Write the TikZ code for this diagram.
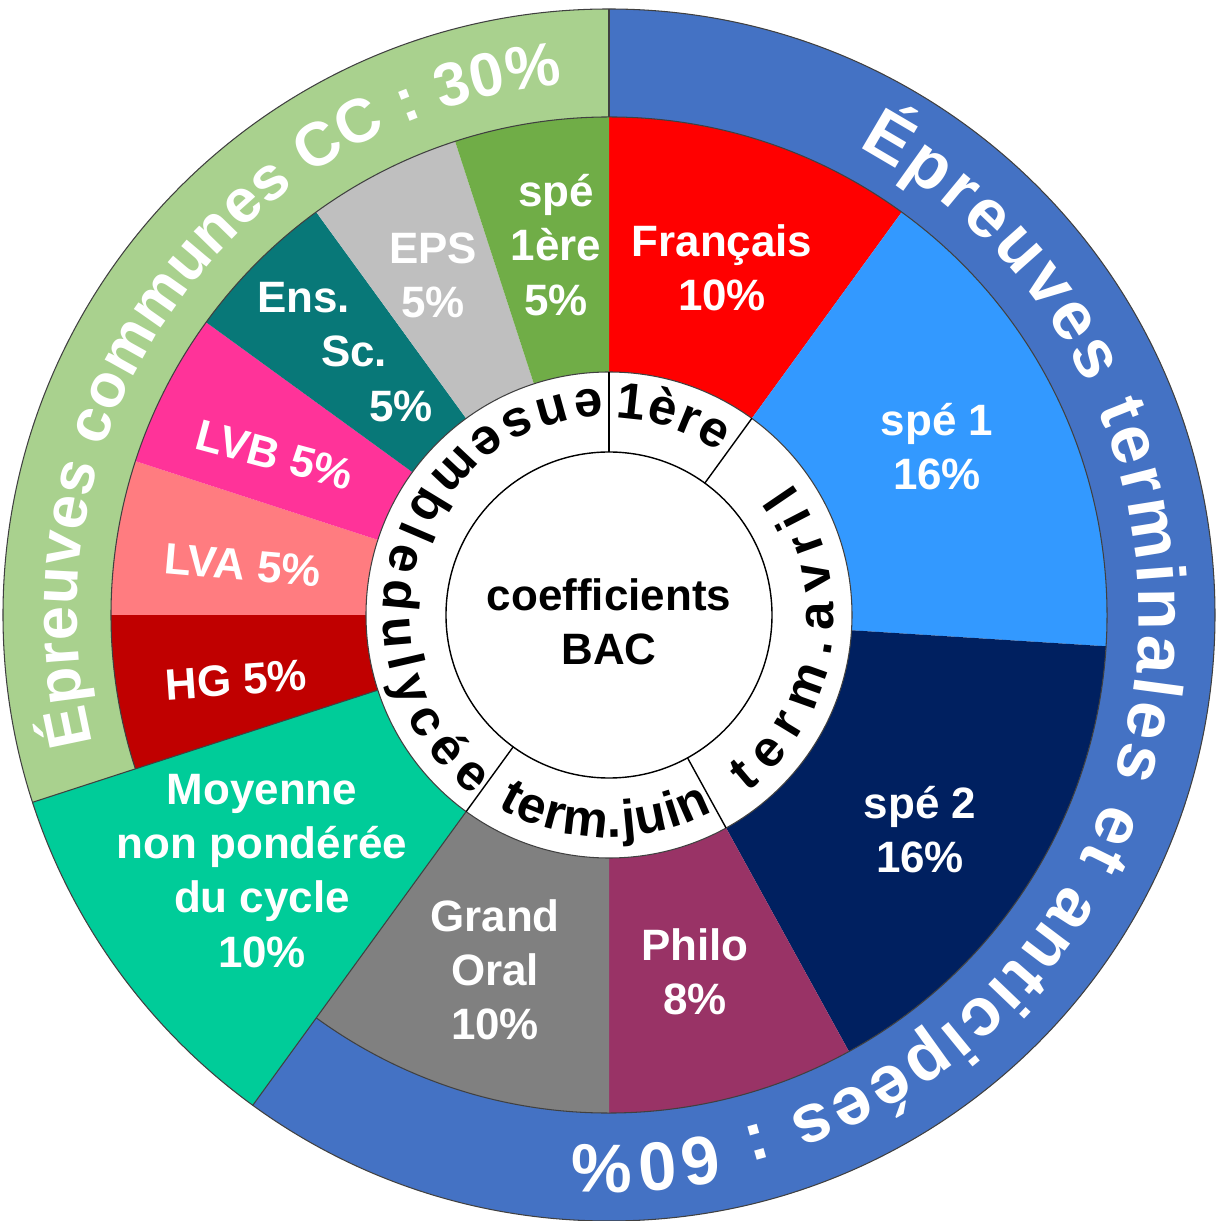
\documentclass[tikz,border=0pt]{standalone}
\usepackage{fontspec}
\setmainfont{Liberation Sans}
\usetikzlibrary{decorations.text}

\definecolor{ccgreen}{HTML}{A9D18E}
\definecolor{etblue}{HTML}{4472C4}
\definecolor{francais}{HTML}{FF0000}
\definecolor{speA}{HTML}{3399FF}
\definecolor{speB}{HTML}{002060}
\definecolor{philo}{HTML}{993366}
\definecolor{oral}{HTML}{808080}
\definecolor{moyenne}{HTML}{00CC99}
\definecolor{hg}{HTML}{C00000}
\definecolor{lva}{HTML}{FF7C80}
\definecolor{lvb}{HTML}{FF3399}
\definecolor{enssc}{HTML}{087878}
\definecolor{eps}{HTML}{BFBFBF}
\definecolor{spepre}{HTML}{70AD47}

\tikzset{
  lbl/.style={text=white, font=\bfseries\fontsize{12.5}{15.4}\selectfont, align=center},
  edge/.style={draw=black!75, line width=0.3pt},
  ringline/.style={draw=black, line width=0.4pt},
}

\begin{document}
\begin{tikzpicture}
      \useasboundingbox (-6.09,-6.06) rectangle (6.07,6.15);
      % outer ring
      \fill[ccgreen] (90:6.06) arc[start angle=90,end angle=198,radius=6.06] -- (198:4.98) arc[start angle=198,end angle=90,radius=4.98] -- cycle;
      \fill[etblue] (90:6.06) arc[start angle=90,end angle=-126,radius=6.06] -- (-126:4.98) arc[start angle=-126,end angle=90,radius=4.98] -- cycle;
      % slices
      \fill[francais] (0,0) -- (90:4.98) arc[start angle=90,end angle=54,radius=4.98] -- cycle;
      \fill[speA] (0,0) -- (54:4.98) arc[start angle=54,end angle=-3.6,radius=4.98] -- cycle;
      \fill[speB] (0,0) -- (-3.6:4.98) arc[start angle=-3.6,end angle=-61.2,radius=4.98] -- cycle;
      \fill[philo] (0,0) -- (-61.2:4.98) arc[start angle=-61.2,end angle=-90,radius=4.98] -- cycle;
      \fill[oral] (0,0) -- (-90:4.98) arc[start angle=-90,end angle=-126,radius=4.98] -- cycle;
      \fill[moyenne] (0,0) -- (-126:6.06) arc[start angle=-126,end angle=-162,radius=6.06] -- cycle;
      \fill[hg] (0,0) -- (198:4.98) arc[start angle=198,end angle=180,radius=4.98] -- cycle;
      \fill[lva] (0,0) -- (180:4.98) arc[start angle=180,end angle=162,radius=4.98] -- cycle;
      \fill[lvb] (0,0) -- (162:4.98) arc[start angle=162,end angle=144,radius=4.98] -- cycle;
      \fill[enssc] (0,0) -- (144:4.98) arc[start angle=144,end angle=126,radius=4.98] -- cycle;
      \fill[eps] (0,0) -- (126:4.98) arc[start angle=126,end angle=108,radius=4.98] -- cycle;
      \fill[spepre] (0,0) -- (108:4.98) arc[start angle=108,end angle=90,radius=4.98] -- cycle;
      % outlines of the rings
      \draw[edge] (0,0) circle[radius=6.06];
      \draw[edge] (234:4.98) arc[start angle=234,end angle=558,radius=4.98];
      \draw[edge] (90:4.98) -- (90:6.06);
      \draw[edge] (198:2.43) -- (198:6.06);
      \draw[edge] (234:2.43) -- (234:6.06);
      % middle ring
      \draw[edge, fill=white] (0,0) circle[radius=2.43];
      \draw[ringline] (0,0) circle[radius=1.63];
      \draw[ringline] (90:1.63) -- (90:2.43);
      \draw[ringline] (54:1.63) -- (54:2.43);
      \draw[ringline] (-61.2:1.63) -- (-61.2:2.43);
      \draw[ringline] (-126:1.63) -- (-126:2.43);
      % ring texts
      \path[decorate, decoration={text along path, text align={fit to path}, text color=white,
        text={|\bfseries\fontsize{17.5}{20}\selectfont|Épreuves communes CC : 30{\%}}}]
        (194:5.32) arc[start angle=194,end angle=95,radius=5.32];
      \path[decorate, decoration={text along path, text align={fit to path}, text color=white,
        text={|\bfseries\fontsize{19.5}{22}\selectfont|Épreuves terminales et anticipées : 60{\%}}}]
        (62:5.30) arc[start angle=62,end angle=-94,radius=5.30];
      \path[decorate, decoration={text along path, text align={fit to path},
        text={|\bfseries\fontsize{14.5}{17}\selectfont|1ère}}]
        (88:1.97) arc[start angle=88,end angle=56,radius=1.97];
      \path[decorate, decoration={text along path, text align={fit to path},
        text={|\bfseries\fontsize{14.5}{17}\selectfont|term.avril}}]
        (-52:2.25) arc[start angle=-52,end angle=36,radius=2.25];
      \path[decorate, decoration={text along path, text align={fit to path},
        text={|\bfseries\fontsize{14.5}{17}\selectfont|term.juin}}]
        (240:2.22) arc[start angle=240,end angle=298,radius=2.22];
      \path[decorate, decoration={text along path, text align={fit to path},
        text={|\bfseries\fontsize{14.5}{17}\selectfont|ensembledulycée}}]
        (92:2.26) arc[start angle=92,end angle=233,radius=2.26];
      % labels
      \node[lbl] (francaislbl) at (1.13,3.47) {Français\\10\%};
      \node[lbl] (speAlbl) at (3.28,1.68) {spé 1\\16\%};
      \node[lbl] (speBlbl) at (3.11,-2.15) {spé 2\\16\%};
      \node[lbl] (philolbl) at (0.86,-3.57) {Philo\\8\%};
      \node[lbl] (orallbl) at (-1.14,-3.55) {Grand\\Oral\\10\%};
      \node[lbl] (moyennelbl) at (-3.47,-2.56) {Moyenne\\non pondérée\\du cycle\\10\%};
      \node[lbl, rotate=4] (hglbl) at (-3.73,-0.65) {HG 5\%};
      \node[lbl, rotate=-5] (lvalbl) at (-3.66,0.50) {LVA 5\%};
      \node[lbl, rotate=-15] (lvblbl) at (-3.34,1.60) {LVB 5\%};
      \node[lbl, align=left] (enssclbl) at (-2.64,2.63) {Ens.\\\hspace*{0.64cm}Sc.\\\hspace*{1.12cm}5\%};
      \node[lbl] (epslbl) at (-1.76,3.40) {EPS\\5\%};
      \node[lbl] (speprelbl) at (-0.53,3.70) {spé\\1ère\\5\%};
      \node[lbl, text=black] (coef) at (0,-0.07) {coefficients\\BAC};
    \end{tikzpicture}
\end{document}
